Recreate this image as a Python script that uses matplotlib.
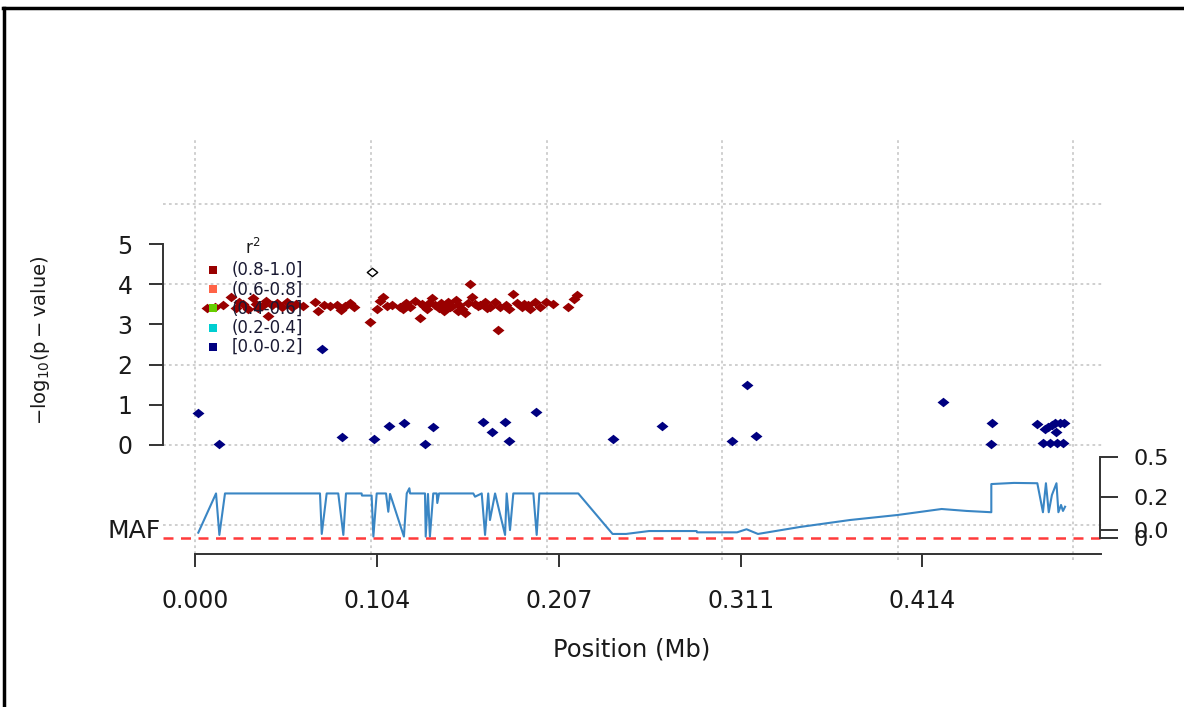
import matplotlib
matplotlib.use("Agg")
import matplotlib.pyplot as plt
from matplotlib.lines import Line2D
from matplotlib.path import Path

plt.rcParams['font.family'] = ['DejaVu Sans']

# ---------------- data ----------------
# SNPs with r^2 in (0.8-1.0]
red_pos = [0.0065, 0.0111, 0.0157, 0.0202, 0.0231, 0.0271, 0.0299, 0.0327, 0.0345, 0.0379,
           0.0401, 0.0413, 0.0436, 0.0464, 0.0493, 0.0521, 0.0550, 0.0572, 0.0681, 0.0698,
           0.0732, 0.0766, 0.0806, 0.0829, 0.0851, 0.0880, 0.0903, 0.0994, 0.1034, 0.1051,
           0.1068, 0.1091, 0.1119, 0.1165, 0.1199, 0.1222, 0.1250, 0.1278, 0.1301, 0.1318,
           0.1330, 0.1347, 0.1364, 0.1387, 0.1398, 0.1415, 0.1421, 0.1438, 0.1461, 0.1483,
           0.1495, 0.1501, 0.1518, 0.1535, 0.1552, 0.1563, 0.1575, 0.1592, 0.1620, 0.1649,
           0.1660, 0.1677, 0.1706, 0.1723, 0.1734, 0.1768, 0.1785, 0.1808, 0.1831, 0.1859,
           0.1894, 0.1905, 0.1933, 0.1962, 0.1996, 0.2036, 0.2121, 0.2155, 0.2173,
           0.0250, 0.0355, 0.0610, 0.1180, 0.1290, 0.1450, 0.1610, 0.1870]
red_logp = [3.41, 3.43, 3.48, 3.68, 3.41, 3.51, 3.38, 3.66, 3.51, 3.46,
            3.58, 3.21, 3.48, 3.53, 3.43, 3.56, 3.43, 3.51, 3.56, 3.33,
            3.48, 3.46, 3.48, 3.36, 3.46, 3.53, 3.43, 3.06, 3.38, 3.58,
            3.68, 3.46, 3.48, 3.43, 3.53, 3.43, 3.58, 3.16, 3.46, 3.38,
            3.53, 3.66, 3.48, 3.41, 3.53, 3.33, 3.43, 3.56, 3.46, 3.61,
            3.33, 3.48, 3.38, 3.28, 3.53, 4.00, 3.68, 3.51, 3.48, 3.56,
            3.41, 3.43, 3.56, 2.86, 3.43, 3.48, 3.38, 3.76, 3.53, 3.43,
            3.48, 3.38, 3.56, 3.43, 3.56, 3.51, 3.43, 3.63, 3.73,
            3.56, 3.41, 3.46, 3.38, 3.51, 3.43, 3.46, 3.51]

# SNPs with r^2 in [0.0-0.2]
blue_pos = [0.0016, 0.0134, 0.0719, 0.0836, 0.1017, 0.1104, 0.1186, 0.1305, 0.1354, 0.1639,
            0.1688, 0.1763, 0.1784, 0.1939, 0.2376, 0.2655, 0.3054, 0.3142, 0.3192, 0.4255,
            0.4534, 0.4528, 0.4790, 0.4838, 0.4856, 0.4876, 0.4895, 0.4900, 0.4923, 0.4946,
            0.4828, 0.4866, 0.4904, 0.4939]
blue_logp = [0.79, 0.02, 2.38, 0.19, 0.15, 0.48, 0.55, 0.02, 0.44, 0.58,
             0.33, 0.58, 0.10, 0.83, 0.15, 0.47, 0.10, 1.49, 0.22, 1.07,
             0.55, 0.02, 0.51, 0.39, 0.44, 0.50, 0.55, 0.33, 0.54, 0.54,
             0.06, 0.06, 0.06, 0.06]

# index SNP (open diamond)
index_pos = [0.1005]
index_logp = [4.30]

# minor allele frequency track
maf_pos = [0.0016, 0.0117, 0.0136, 0.0168, 0.0709, 0.0719, 0.0747, 0.0813, 0.0842, 0.0857,
           0.0946, 0.0948, 0.1003, 0.1013, 0.1032, 0.1085, 0.1098, 0.1108, 0.1187, 0.1203,
           0.1218, 0.1222, 0.1307, 0.1311, 0.1324, 0.1335, 0.1354, 0.1374, 0.1377, 0.1387,
           0.1582, 0.1592, 0.1630, 0.1649, 0.1667, 0.1677, 0.1706, 0.1763, 0.1772, 0.1791,
           0.1810, 0.1924, 0.1943, 0.1958, 0.2180, 0.2375, 0.2452, 0.2583, 0.2854, 0.2856,
           0.3084, 0.3138, 0.3203, 0.3442, 0.3727, 0.3998, 0.4249, 0.4391, 0.4532, 0.4532,
           0.4661, 0.4794, 0.4826, 0.4843, 0.4859, 0.4877, 0.4903, 0.4914, 0.4929, 0.4940,
           0.4952]
maf_val = [0.033, 0.275, 0.019, 0.275, 0.275, 0.025, 0.275, 0.275, 0.019, 0.275,
           0.275, 0.262, 0.262, 0.009, 0.275, 0.275, 0.162, 0.272, 0.009, 0.275,
           0.307, 0.275, 0.275, 0.009, 0.272, 0.009, 0.275, 0.275, 0.216, 0.275,
           0.275, 0.255, 0.275, 0.019, 0.275, 0.111, 0.275, 0.019, 0.275, 0.049,
           0.275, 0.275, 0.019, 0.275, 0.275, 0.025, 0.025, 0.043, 0.043, 0.035,
           0.035, 0.054, 0.025, 0.068, 0.111, 0.142, 0.179, 0.167, 0.159, 0.333,
           0.340, 0.338, 0.159, 0.338, 0.159, 0.265, 0.338, 0.159, 0.204, 0.167,
           0.193]

x_ticks = [0.0, 0.1035, 0.207, 0.3105, 0.414]
x_tick_labels = ['0.000', '0.104', '0.207', '0.311', '0.414']
y_ticks = [0, 1, 2, 3, 4, 5]
maf_ticks = [0.5, 0.253, 0.049, 0.0]
maf_tick_labels = ['0.5', '0.2', '0.0', '0']
grid_x = [0.0, 0.1, 0.2, 0.3, 0.4, 0.5]
grid_y = [-2, 0, 2, 4, 6]

legend_labels = ['(0.8-1.0]', '(0.6-0.8]', '(0.4-0.6]', '(0.2-0.4]', '[0.0-0.2]']
legend_colors = ['#990000', '#FF6347', '#66CD00', '#00CED1', '#000080']

# ---------------- figure ----------------
W, H = 1184, 707
fig = plt.figure(figsize=(W / 100, H / 100), dpi=100)
ax = fig.add_axes([163 / W, 1 - 560 / H, 940 / W, 422 / H])
ax.set_xlim(-0.0185, 0.5168)
ax.set_ylim(-2.861, 7.637)
ax.patch.set_alpha(0)

grid_kw = dict(color='#CCCCCC', lw=1.3, ls=(0, (1.5, 1.8)), zorder=0)
for gx in grid_x:
    ax.axvline(gx, **grid_kw)
for gy in grid_y:
    ax.axhline(gy, **grid_kw)

diamond = Path([(-1.25, 0), (0, 1), (1.25, 0), (0, -1), (-1.25, 0)],
               [Path.MOVETO, Path.LINETO, Path.LINETO, Path.LINETO, Path.CLOSEPOLY])

ax.plot(red_pos, red_logp, ls='none', marker=diamond, ms=8.6, mew=0,
        color=legend_colors[0], zorder=3)
ax.plot(blue_pos, blue_logp, ls='none', marker=diamond, ms=8.6, mew=0,
        color=legend_colors[4], zorder=3)
ax.plot(index_pos, index_logp, ls='none', marker=diamond, ms=7.5, mew=1.0,
        mfc='white', mec='black', zorder=4)

# spines / axes
for s in ['top', 'right']:
    ax.spines[s].set_visible(False)
ax.spines['left'].set_bounds(0, 5)
ax.spines['left'].set_color('#333333')
ax.spines['left'].set_linewidth(1.4)
ax.spines['bottom'].set_position(('data', -2.711))
ax.spines['bottom'].set_bounds(0, 0.5155)
ax.spines['bottom'].set_color('#333333')
ax.spines['bottom'].set_linewidth(1.4)

ax.set_xticks(x_ticks)
ax.set_xticklabels(x_tick_labels)
ax.set_yticks(y_ticks)
ax.set_yticklabels([str(v) for v in y_ticks])
ax.tick_params(axis='x', length=9, width=1.4, color='#333333', pad=16,
               labelsize=17, labelcolor='#1a1a1a')
ax.tick_params(axis='y', length=10, width=1.4, color='#333333', pad=12,
               labelsize=17, labelcolor='#1a1a1a')

# MAF track
ax2 = ax.twinx()
ax2.set_ylim(-0.1358, 2.469)
for s in ['top', 'left', 'bottom']:
    ax2.spines[s].set_visible(False)
ax2.spines['right'].set_position(('data', 0.5151))
ax2.spines['right'].set_bounds(0, 0.5)
ax2.spines['right'].set_color('#333333')
ax2.spines['right'].set_linewidth(1.4)
ax2.set_yticks(maf_ticks)
ax2.set_yticklabels(maf_tick_labels)
ax2.tick_params(axis='y', length=13, width=1.4, color='#333333', pad=11,
                labelsize=16, labelcolor='#1a1a1a')
ax2.plot(maf_pos, maf_val, color='#3A86C4', lw=1.5, zorder=3)
ax2.hlines(0, -0.0185, 0.5151, colors='#FF3B3B', linestyles=(0, (4, 3)), lw=1.8, zorder=2)

# legend
ax.text(0.0957, 0.739, r'$\mathregular{r^2}$', transform=ax.transAxes,
        ha='center', va='center', fontsize=12, color='#1a1a1a', zorder=6)
leg_y = [0.687, 0.6415, 0.596, 0.5505, 0.505]
for lab, col, yy in zip(legend_labels, legend_colors, leg_y):
    ax.plot([0.0529], [yy], marker='s', ms=5.8, mew=0, color=col,
            transform=ax.transAxes, zorder=6, clip_on=False)
    ax.text(0.0731, yy, lab, transform=ax.transAxes, ha='left', va='center',
            fontsize=12, color='#1a1a33', zorder=6)

# labels
fig.text(41 / W, 1 - 340 / H, r'$\mathregular{-log_{10}(p - value)}$', rotation=90,
         ha='center', va='center', fontsize=14, color='#1a1a1a')
fig.text(632 / W, 1 - 650 / H, 'Position (Mb)', ha='center', va='center',
         fontsize=17.5, color='#1a1a1a')
fig.text(161 / W, 1 - 531 / H, 'MAF', ha='right', va='center',
         fontsize=18, color='#1a1a1a')

# outer frame (top and left)
fig.add_artist(Line2D([3 / W, 1], [1 - 8 / H, 1 - 8 / H], transform=fig.transFigure,
                      color='black', lw=2.5))
fig.add_artist(Line2D([4 / W, 4 / W], [0, 1 - 8 / H], transform=fig.transFigure,
                      color='black', lw=2.5))

fig.savefig('out.png', dpi=100)
